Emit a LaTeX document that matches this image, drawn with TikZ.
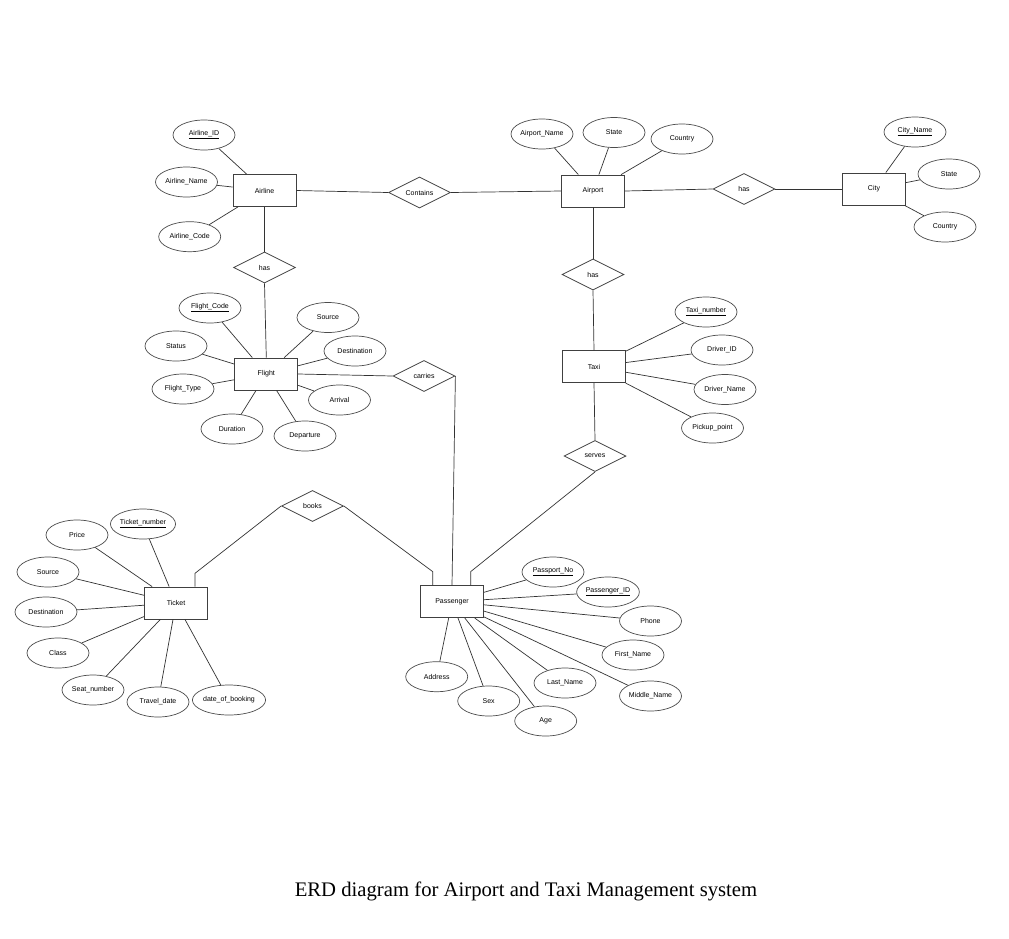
\documentclass[tikz,border=0pt]{standalone}
\usepackage{fontspec}
\setmainfont{Liberation Sans}
\newfontfamily\capfont{Liberation Serif}
\usetikzlibrary{shapes.geometric}
\begin{document}
\begin{tikzpicture}[x=1pt,y=-1pt,
  every node/.style={font=\fontsize{7}{8}\selectfont, inner sep=0pt},
  ent/.style={draw=black!75, line width=0.8pt, minimum width=63pt, minimum height=32pt},
  attr/.style={draw=black!70, line width=0.7pt, ellipse, minimum width=62pt, minimum height=30pt},
  rel/.style={draw=black!75, line width=0.8pt, diamond, aspect=2, minimum width=62pt, minimum height=31pt},
  conn/.style={draw=black!80, line width=0.7pt}]
\useasboundingbox[fill=white] (0,0) rectangle (1009,938);

% ---------- entities ----------
\node[ent] (airline) at (264.5,190.5) {Airline};
\node[ent] (airport) at (593,191) {Airport};
\node[ent] (city) at (874,189) {City};
\node[ent] (flight) at (266.3,374) {Flight};
\node[ent] (taxi) at (594,366.7) {Taxi};
\node[ent] (ticket) at (176,603) {Ticket};
\node[ent] (passenger) at (452,601.7) {Passenger};

% ---------- relationships ----------
\node[rel] (contains) at (419.5,192.5) {Contains};
\node[rel] (hasAF) at (264.5,267.5) {has};
\node[rel] (hasAC) at (744,189) {has};
\node[rel] (hasAT) at (593,274.5) {has};
\node[rel] (carries) at (424,376) {carries};
\node[rel] (serves) at (595,456) {serves};
\node[rel] (books) at (312.5,506) {books};

% ---------- attributes: Airline ----------
\node[attr] (alid) at (204,135) {\underline{Airline\_ID}};
\node[attr] (alname) at (186.5,182) {Airline\_Name};
\node[attr] (alcode) at (189.7,236.7) {Airline\_Code};
% Airport
\node[attr] (apname) at (542,134) {Airport\_Name};
\node[attr] (apstate) at (614,132.5) {State};
\node[attr] (apcountry) at (682,139) {Country};
% City
\node[attr] (cityname) at (915,132) {\underline{City\_Name}};
\node[attr] (citystate) at (949,174) {State};
\node[attr] (citycountry) at (945,227) {Country};
% Flight
\node[attr] (flcode) at (210,308) {\underline{Flight\_Code}};
\node[attr] (flsource) at (328,317.5) {Source};
\node[attr] (fldest) at (355,351) {Destination};
\node[attr] (flstatus) at (176,346) {Status};
\node[attr] (fltype) at (183,389) {Flight\_Type};
\node[attr] (flarrival) at (339.5,400) {Arrival};
\node[attr] (flduration) at (232,429) {Duration};
\node[attr] (fldeparture) at (305,436) {Departure};
% Taxi
\node[attr] (txnum) at (706,312) {\underline{Taxi\_number}};
\node[attr] (txdrid) at (722,350) {Driver\_ID};
\node[attr] (txdrname) at (725,389.5) {Driver\_Name};
\node[attr] (txpickup) at (712.5,428) {Pickup\_point};
% Ticket
\node[attr] (tknum) at (143,524) {\underline{Ticket\_number}};
\node[attr] (tkprice) at (77,535) {Price};
\node[attr] (tksource) at (48,572) {Source};
\node[attr] (tkdest) at (46,612) {Destination};
\node[attr] (tkclass) at (58,653) {Class};
\node[attr] (tkseat) at (93,690) {Seat\_number};
\node[attr] (tktravel) at (158,702) {Travel\_date};
\node[attr] (tkbooking) at (229,700) {date\_of\_booking};
% Passenger
\node[attr] (pspassport) at (553,572) {\underline{Passport\_No}};
\node[attr] (psid) at (608,592) {\underline{Passenger\_ID}};
\node[attr] (psphone) at (650.5,621) {Phone};
\node[attr] (psfirst) at (633,655) {First\_Name};
\node[attr] (psmiddle) at (650.5,696) {Middle\_Name};
\node[attr] (pslast) at (565,683) {Last\_Name};
\node[attr] (psage) at (545.7,721) {Age};
\node[attr] (pssex) at (488.7,701) {Sex};
\node[attr] (psaddress) at (436.7,676.7) {Address};

% ---------- relationship connectors ----------
\draw[conn] (airline.east) -- (contains.west);
\draw[conn] (contains.east) -- (airport.west);
\draw[conn] (airport.east) -- (hasAC.west);
\draw[conn] (hasAC.east) -- (city.west);
\draw[conn] (airline.south) -- (hasAF.north);
\draw[conn] (hasAF.south) -- (flight.north);
\draw[conn] (airport.south) -- (hasAT.north);
\draw[conn] (hasAT.south) -- (taxi.north);
\draw[conn] (flight.east) -- (carries.west);
\draw[conn] (carries.east) -- (passenger.north);
\draw[conn] (taxi.south) -- (serves.north);
\draw[conn] (serves.south) -- ([xshift=18.7pt,yshift=13.7pt]passenger.north) -- ([xshift=18.7pt]passenger.north);
\draw[conn] (books.west) -- ([xshift=19pt,yshift=13.3pt]ticket.north) -- ([xshift=19pt]ticket.north);
\draw[conn] (books.east) -- ([xshift=-19.3pt,yshift=13.7pt]passenger.north) -- ([xshift=-19.3pt]passenger.north);

% ---------- attribute connectors ----------
\foreach \a in {alid,alname,alcode} \draw[conn] (\a) -- (airline);
\foreach \a in {apname,apstate,apcountry} \draw[conn] (\a) -- (airport);
\foreach \a in {cityname,citystate,citycountry} \draw[conn] (\a) -- (city);
\foreach \a in {flcode,flsource,fldest,flstatus,fltype,flarrival,flduration,fldeparture} \draw[conn] (\a) -- (flight);
\foreach \a in {txnum,txdrid,txdrname,txpickup} \draw[conn] (\a) -- (taxi);
\foreach \a in {tknum,tkprice,tksource,tkdest,tkclass,tkseat,tktravel,tkbooking} \draw[conn] (\a) -- (ticket);
\foreach \a in {pspassport,psid,psphone,psfirst,psmiddle,pslast,psage,pssex,psaddress} \draw[conn] (\a) -- (passenger);

% ---------- caption ----------
\node[font=\capfont\fontsize{20.7}{24}\selectfont, anchor=base] (caption) at (526,896) {ERD diagram for Airport and Taxi Management system};
\end{tikzpicture}
\end{document}
